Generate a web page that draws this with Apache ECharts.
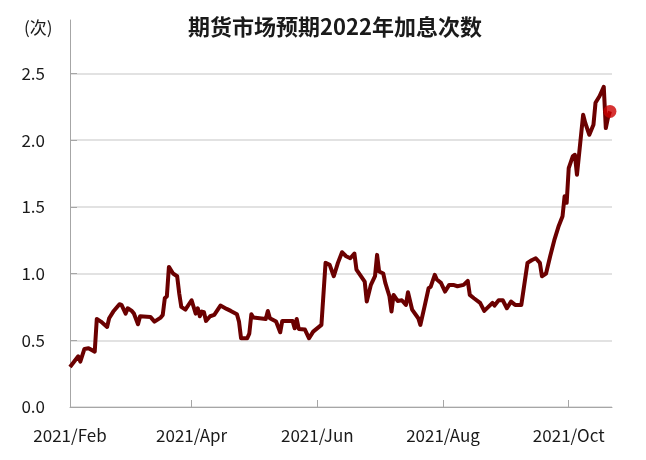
<!DOCTYPE html>
<html><head><meta charset="utf-8">
<script src="https://cdn.jsdelivr.net/npm/echarts@6/dist/echarts.min.js"></script>
<style>html,body{margin:0;padding:0;background:#fff}#c{width:646px;height:460px}</style>
</head><body><div id="c"></div>
<script>
const titleText = '期货市场预期2022年加息次数';
const unitText = '(次)';
const dates = ['2021-02-01','2021-02-05','2021-02-06','2021-02-08','2021-02-10','2021-02-13','2021-02-14','2021-02-16','2021-02-19','2021-02-20',
'2021-02-22','2021-02-25','2021-02-26','2021-02-28','2021-03-01','2021-03-03','2021-03-04','2021-03-06','2021-03-07','2021-03-12',
'2021-03-14','2021-03-17','2021-03-18','2021-03-19','2021-03-20','2021-03-21','2021-03-23','2021-03-25','2021-03-26','2021-03-27',
'2021-03-29','2021-04-01','2021-04-03','2021-04-04','2021-04-05','2021-04-06','2021-04-07','2021-04-08','2021-04-10','2021-04-12',
'2021-04-15','2021-04-18','2021-04-20','2021-04-23','2021-04-24','2021-04-25','2021-04-28','2021-04-29','2021-04-30','2021-05-01',
'2021-05-07','2021-05-08','2021-05-09','2021-05-12','2021-05-14','2021-05-15','2021-05-20','2021-05-21','2021-05-22','2021-05-23',
'2021-05-26','2021-05-28','2021-05-30','2021-06-03','2021-06-05','2021-06-07','2021-06-09','2021-06-11','2021-06-13','2021-06-15',
'2021-06-17','2021-06-19','2021-06-20','2021-06-24','2021-06-25','2021-06-27','2021-06-29','2021-06-30','2021-07-01','2021-07-03',
'2021-07-04','2021-07-06','2021-07-07','2021-07-08','2021-07-10','2021-07-12','2021-07-14','2021-07-15','2021-07-17','2021-07-20',
'2021-07-21','2021-07-23','2021-07-25','2021-07-26','2021-07-28','2021-07-29','2021-07-31','2021-08-02','2021-08-04','2021-08-06',
'2021-08-08','2021-08-11','2021-08-13','2021-08-14','2021-08-16','2021-08-19','2021-08-21','2021-08-23','2021-08-25','2021-08-26',
'2021-08-28','2021-08-30','2021-09-01','2021-09-03','2021-09-05','2021-09-08','2021-09-11','2021-09-13','2021-09-15','2021-09-17',
'2021-09-18','2021-09-20','2021-09-22','2021-09-24','2021-09-26','2021-09-28','2021-09-29','2021-09-30','2021-10-01','2021-10-03',
'2021-10-04','2021-10-05','2021-10-08','2021-10-09','2021-10-11','2021-10-13','2021-10-14','2021-10-16','2021-10-18','2021-10-19',
'2021-10-20','2021-10-21'];
const values = [0.30,0.38,0.34,0.435,0.44,0.415,0.66,0.64,0.60,0.665,
0.715,0.77,0.765,0.70,0.74,0.72,0.70,0.62,0.68,0.675,
0.64,0.67,0.69,0.815,0.83,1.05,1.00,0.98,0.85,0.75,
0.73,0.80,0.70,0.74,0.68,0.715,0.71,0.645,0.68,0.69,
0.76,0.735,0.72,0.695,0.64,0.515,0.515,0.55,0.695,0.67,
0.66,0.72,0.665,0.64,0.56,0.645,0.645,0.59,0.66,0.585,
0.58,0.515,0.565,0.615,1.08,1.065,0.98,1.08,1.16,1.13,
1.115,1.15,1.03,0.94,0.79,0.915,0.98,1.14,1.015,1.00,
0.93,0.83,0.715,0.84,0.795,0.80,0.765,0.86,0.73,0.665,
0.615,0.75,0.89,0.90,0.99,0.955,0.93,0.865,0.915,0.915,
0.905,0.915,0.945,0.84,0.815,0.78,0.72,0.75,0.78,0.76,
0.80,0.80,0.74,0.79,0.765,0.765,1.08,1.10,1.115,1.08,
0.98,1.00,1.13,1.25,1.35,1.43,1.58,1.53,1.79,1.88,
1.89,1.74,2.19,2.13,2.04,2.115,2.28,2.33,2.40,2.09,
2.165,2.215];
const lastDate = '2021-10-21';
const lastValue = 2.215;
const xStart = '2021-02-01';
const xEnd = '2021-10-22';
const xTickDates = ['2021-02-01','2021-04-01','2021-06-01','2021-08-01','2021-10-01'];
const xTickLabels = ['2021/Feb','2021/Apr','2021/Jun','2021/Aug','2021/Oct'];
const yTicks = [0, 0.5, 1.0, 1.5, 2.0, 2.5];
const yMax = 2.9;

const ts = s => { const p = s.split('-').map(Number); return new Date(p[0], p[1]-1, p[2]).getTime(); };
const xTickTs = xTickDates.map(ts);
const FONT = 'Noto Sans CJK SC';

const chart = echarts.init(document.getElementById('c'), null, {renderer: 'canvas'});
chart.setOption({
  animation: false,
  backgroundColor: '#ffffff',
  title: [
    {text: titleText, left: 183, top: 11, textStyle: {fontFamily: FONT, fontSize: 22, fontWeight: 'bold', color: '#1a1a1a'}},
    {text: unitText, left: 19, top: 14, textStyle: {fontFamily: FONT, fontSize: 17, fontWeight: 'normal', color: '#1a1a1a'}}
  ],
  grid: {left: 70, right: 34, top: 20, bottom: 53, containLabel: false},
  xAxis: {
    type: 'value', min: ts(xStart), max: ts(xEnd),
    axisLine: {show: true, lineStyle: {color: '#a6a6a6', width: 1}},
    axisTick: {show: true, inside: true, length: 7, lineStyle: {color: '#a6a6a6'}, customValues: xTickTs},
    axisLabel: {
      customValues: xTickTs, margin: 20,
      fontFamily: FONT, fontSize: 17, color: '#1a1a1a',
      formatter: v => { let bi = 0, bd = Infinity; xTickTs.forEach((t, i) => { const d = Math.abs(t - v); if (d < bd) { bd = d; bi = i; } }); return xTickLabels[bi]; }
    },
    splitLine: {show: false}
  },
  yAxis: {
    type: 'value', min: 0, max: yMax, interval: 0.5,
    axisLine: {show: true, lineStyle: {color: '#a6a6a6', width: 1}},
    axisTick: {show: true, inside: true, length: 7, lineStyle: {color: '#a6a6a6'}, customValues: yTicks},
    axisLabel: {customValues: yTicks, margin: 25, fontFamily: FONT, fontSize: 17, color: '#1a1a1a', formatter: v => v.toFixed(1)},
    splitLine: {show: true, lineStyle: {color: ['#d9d9d9','#d9d9d9','#d9d9d9','#d9d9d9','#d9d9d9','#d9d9d9','rgba(0,0,0,0)'], width: 1.5}}
  },
  series: [
    {type: 'line', data: dates.map((d, i) => [ts(d), values[i]]), showSymbol: false, symbol: 'none',
     lineStyle: {color: '#6b0000', width: 4, join: 'round'}, z: 2},
    {type: 'scatter', data: [[ts(lastDate), lastValue]], symbolSize: 13, itemStyle: {color: '#cc0000'}, z: 3}
  ]
});
</script></body></html>
